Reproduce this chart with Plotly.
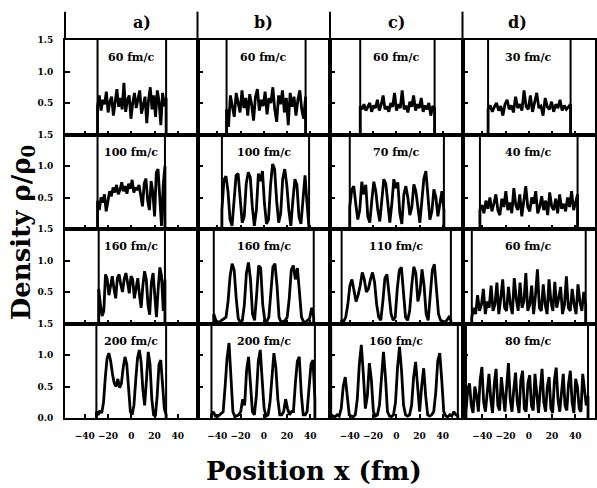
import numpy as np
import plotly.graph_objects as go
from plotly.subplots import make_subplots

# Column headers and time labels (fm/c) per panel, rows top to bottom
columns = ["a)", "b)", "c)", "d)"]
times = [
    ["60 fm/c", "60 fm/c", "60 fm/c", "30 fm/c"],
    ["100 fm/c", "100 fm/c", "70 fm/c", "40 fm/c"],
    ["160 fm/c", "160 fm/c", "110 fm/c", "60 fm/c"],
    ["200 fm/c", "200 fm/c", "160 fm/c", "80 fm/c"],
]

# Box walls (fm): [left, right] for each panel
walls = [
    [[-29, 30], [-32, 36], [-31, 33], [-35, 36]],
    [[-29, 29], [-36, 39], [-40, 41], [-42, 42]],
    [[-28, 29], [-43, 43], [-47, 47], [-49, 49]],
    [[-30, 30], [-45, 44], [-56, 53], [-54, 51]],
]

# Density rho/rho0 sampled evenly between the walls
dens_r1a = [0.45, 0.62, 0.38, 0.55, 0.48, 0.68, 0.35, 0.52, 0.60, 0.30, 0.50, 0.72, 0.44, 0.58, 0.40, 0.82, 0.36, 0.55, 0.62, 0.25,
            0.50, 0.66, 0.42, 0.58, 0.70, 0.33, 0.48, 0.60, 0.18, 0.55, 0.75, 0.40, 0.62, 0.28, 0.70, 0.52, 0.15, 0.66, 0.45, 0.58]
dens_r1b = [0.40, 0.12, 0.62, 0.45, 0.28, 0.66, 0.50, 0.35, 0.70, 0.42, 0.58, 0.30, 0.64, 0.48, 0.22, 0.60, 0.72, 0.38, 0.55, 0.45,
            0.68, 0.32, 0.58, 0.50, 0.75, 0.40, 0.20, 0.62, 0.48, 0.70, 0.35, 0.58, 0.15, 0.66, 0.44, 0.60, 0.30, 0.55, 0.70, 0.40, 0.25, 0.60]
dens_r1c = [0.45, 0.40, 0.48, 0.38, 0.44, 0.50, 0.36, 0.46, 0.42, 0.55, 0.38, 0.47, 0.62, 0.40, 0.45, 0.36, 0.50, 0.44, 0.66, 0.38,
            0.48, 0.42, 0.70, 0.40, 0.46, 0.35, 0.52, 0.44, 0.62, 0.38, 0.48, 0.42, 0.58, 0.36, 0.46, 0.40, 0.50, 0.30, 0.45, 0.42]
dens_r1d = [0.40, 0.46, 0.36, 0.44, 0.50, 0.38, 0.45, 0.30, 0.48, 0.55, 0.40, 0.46, 0.35, 0.60, 0.42, 0.48, 0.38, 0.70, 0.44, 0.40,
            0.62, 0.36, 0.50, 0.66, 0.42, 0.45, 0.30, 0.58, 0.44, 0.40, 0.52, 0.36, 0.48, 0.42, 0.55, 0.38, 0.46, 0.40, 0.44, 0.48]

dens_r2a = [0.45, 0.30, 0.50, 0.42, 0.55, 0.28, 0.48, 0.60, 0.52, 0.66, 0.58, 0.70, 0.55, 0.62, 0.74, 0.60, 0.68, 0.56, 0.72, 0.64,
            0.78, 0.58, 0.66, 0.62, 0.70, 0.50, 0.36, 0.72, 0.80, 0.45, 0.30, 0.76, 0.58, 0.20, 0.90, 0.95, 0.40, 0.05, 0.70, 1.00]
dens_r2b = [0.30, 0.78, 0.84, 0.60, 0.15, 0.05, 0.40, 0.85, 0.88, 0.50, 0.10, 0.20, 0.72, 0.90, 0.82, 0.35, 0.05, 0.30, 0.88, 0.76,
            0.92, 0.40, 0.08, 0.15, 0.70, 1.03, 0.95, 0.45, 0.10, 0.25, 0.80, 0.95, 0.70, 0.30, 0.05, 0.45, 0.79, 0.70, 0.20, 0.08,
            0.55, 0.85, 0.40, 0.10]
dens_r2c = [0.35, 0.62, 0.68, 0.40, 0.15, 0.30, 0.75, 0.55, 0.70, 0.20, 0.10, 0.45, 0.75, 0.60, 0.30, 0.12, 0.50, 0.79, 0.72, 0.35,
            0.10, 0.40, 0.79, 0.65, 0.74, 0.25, 0.08, 0.55, 0.68, 0.50, 0.22, 0.35, 0.71, 0.60, 0.30, 0.10, 0.45, 0.80, 0.92, 0.55,
            0.15, 0.28, 0.63, 0.50, 0.20, 0.40, 0.60, 0.30]
dens_r2d = [0.30, 0.38, 0.25, 0.45, 0.32, 0.50, 0.28, 0.40, 0.55, 0.30, 0.22, 0.48, 0.35, 0.60, 0.30, 0.42, 0.25, 0.65, 0.38, 0.30,
            0.55, 0.20, 0.45, 0.68, 0.35, 0.28, 0.50, 0.40, 0.60, 0.25, 0.35, 0.52, 0.30, 0.45, 0.22, 0.58, 0.36, 0.30, 0.48, 0.25,
            0.55, 0.32, 0.40, 0.28, 0.50, 0.35, 0.60, 0.30, 0.42, 0.55]

dens_r3a = [0.55, 0.30, 0.12, 0.20, 0.78, 0.70, 0.45, 0.60, 0.75, 0.55, 0.40, 0.72, 0.78, 0.62, 0.50, 0.70, 0.80, 0.65, 0.48, 0.75,
            0.70, 0.40, 0.55, 0.72, 0.45, 0.25, 0.60, 0.83, 0.70, 0.30, 0.14, 0.65, 0.80, 0.40, 0.10, 0.55, 0.89, 0.75, 0.20, 0.70]
dens_r3b = [0.15, 0.05, 0.02, 0.03, 0.05, 0.08, 0.10, 0.35, 0.75, 0.95, 0.85, 0.40, 0.08, 0.02, 0.05, 0.30, 0.80, 0.97, 0.70, 0.15,
            0.05, 0.45, 0.92, 0.88, 0.30, 0.05, 0.03, 0.10, 0.55, 0.90, 0.95, 0.60, 0.10, 0.02, 0.03, 0.05, 0.10, 0.40, 0.85, 0.92,
            0.70, 0.88, 0.50, 0.10, 0.03, 0.02, 0.05, 0.08, 0.25, 0.10]
dens_r3c = [0.05, 0.03, 0.10, 0.30, 0.60, 0.70, 0.55, 0.35, 0.45, 0.60, 0.81, 0.70, 0.50, 0.55, 0.70, 0.81, 0.65, 0.30, 0.10, 0.05,
            0.35, 0.72, 0.78, 0.50, 0.15, 0.05, 0.10, 0.55, 0.85, 0.89, 0.45, 0.10, 0.05, 0.20, 0.60, 0.90, 0.80, 0.35, 0.50, 0.86,
            0.60, 0.15, 0.05, 0.40, 0.85, 0.94, 0.60, 0.15, 0.05, 0.03, 0.02, 0.05, 0.10, 0.05]
dens_r3d = [0.10, 0.25, 0.15, 0.45, 0.20, 0.30, 0.55, 0.15, 0.35, 0.25, 0.60, 0.20, 0.30, 0.65, 0.15, 0.40, 0.70, 0.25, 0.20, 0.58,
            0.30, 0.15, 0.72, 0.40, 0.20, 0.65, 0.25, 0.35, 0.80, 0.20, 0.30, 0.60, 0.15, 0.45, 0.86, 0.25, 0.20, 0.62, 0.30, 0.15,
            0.70, 0.35, 0.20, 0.66, 0.25, 0.40, 0.58, 0.15, 0.30, 0.75, 0.25, 0.20, 0.55, 0.30, 0.15, 0.62, 0.35, 0.20, 0.50, 0.30]

dens_r4a = [0.10, 0.05, 0.12, 0.08, 0.25, 0.65, 0.95, 1.03, 0.90, 0.70, 0.55, 0.50, 0.62, 0.48, 0.55, 0.80, 0.97, 0.85, 0.40, 0.10,
            0.05, 0.20, 0.60, 0.95, 1.08, 0.90, 0.45, 0.20, 0.60, 1.05, 0.85, 0.30, 0.05, 0.03, 0.35, 0.85, 0.92, 0.60, 0.15, 0.05]
dens_r4b = [0.05, 0.10, 0.03, 0.02, 0.05, 0.08, 0.10, 0.50, 0.95, 1.19, 0.60, 0.10, 0.02, 0.03, 0.05, 0.10, 0.30, 0.20, 0.75, 0.97,
            0.60, 0.10, 0.05, 0.35, 0.90, 1.08, 0.60, 0.15, 0.03, 0.05, 0.25, 0.70, 1.03, 0.80, 0.30, 0.05, 0.05, 0.10, 0.30, 0.15,
            0.05, 0.10, 0.10, 0.55, 0.90, 0.97, 0.40, 0.05, 0.05, 0.10, 0.45, 0.85, 0.92, 0.30]
dens_r4c = [0.05, 0.03, 0.02, 0.05, 0.03, 0.15, 0.50, 0.65, 0.30, 0.05, 0.03, 0.02, 0.05, 0.30, 0.85, 1.16, 0.70, 0.15, 0.35, 0.87,
            0.60, 0.10, 0.03, 0.05, 0.20, 0.70, 1.05, 0.65, 0.10, 0.03, 0.02, 0.05, 0.25, 0.80, 1.13, 0.75, 0.20, 0.05, 0.03, 0.05,
            0.20, 0.65, 0.89, 0.50, 0.10, 0.50, 0.79, 0.35, 0.05, 0.03, 0.05, 0.10, 0.40, 0.90, 1.03, 0.60, 0.10, 0.03, 0.02, 0.05,
            0.03, 0.10, 0.05, 0.03]
dens_r4d = [0.10, 0.45, 0.55, 0.20, 0.08, 0.50, 0.35, 0.10, 0.60, 0.81, 0.25, 0.10, 0.40, 0.70, 0.30, 0.08, 0.55, 0.78, 0.20, 0.12,
            0.65, 0.40, 0.10, 0.50, 0.87, 0.30, 0.10, 0.45, 0.72, 0.25, 0.08, 0.60, 0.75, 0.15, 0.10, 0.55, 0.68, 0.20, 0.12, 0.70,
            0.35, 0.08, 0.45, 0.78, 0.25, 0.10, 0.50, 0.65, 0.15, 0.08, 0.60, 0.80, 0.30, 0.10, 0.40, 0.70, 0.20, 0.12, 0.55, 0.75,
            0.25, 0.08, 0.62, 0.50, 0.15, 0.10, 0.70, 0.45, 0.20, 0.35]

densities = [
    [dens_r1a, dens_r1b, dens_r1c, dens_r1d],
    [dens_r2a, dens_r2b, dens_r2c, dens_r2d],
    [dens_r3a, dens_r3b, dens_r3c, dens_r3d],
    [dens_r4a, dens_r4b, dens_r4c, dens_r4d],
]

x_ticks = [-40, -20, 0, 20, 40]
x_ticktext = ["−40", "−20", "0", "20", "40"]
y_ticks = [0.0, 0.5, 1.0, 1.5]
y_ticktext = ["0.0", "0.5", "1.0", "1.5"]

SERIF = "DejaVu Serif"
INK = "black"

fig = make_subplots(rows=4, cols=4, horizontal_spacing=0, vertical_spacing=0)

for r in range(4):
    for c in range(4):
        wl, wr = walls[r][c]
        vals = densities[r][c]
        xs = np.concatenate([[wl], np.linspace(wl, wr, len(vals)), [wr]])
        ys = np.concatenate([[0.0], vals, [0.0]])
        fig.add_trace(
            go.Scatter(x=xs, y=ys, mode="lines", line=dict(color=INK, width=2.8),
                       showlegend=False, hoverinfo="skip"),
            row=r + 1, col=c + 1,
        )
        idx = r * 4 + c + 1
        xref = "x" if idx == 1 else f"x{idx}"
        yref = "y" if idx == 1 else f"y{idx}"
        # box walls
        for w in (wl, wr):
            fig.add_shape(type="line", xref=xref, yref=f"{yref} domain",
                          x0=w, x1=w, y0=0, y1=1, line=dict(color=INK, width=2))
        fig.add_annotation(x=0, y=1.22, xref=xref, yref=yref, text=f"<b>{times[r][c]}</b>",
                           showarrow=False, font=dict(family=SERIF, size=11, color=INK))

        fig.update_xaxes(
            row=r + 1, col=c + 1, range=[-57, 57], showgrid=False, zeroline=False,
            showline=True, mirror=True, linecolor=INK, linewidth=2,
            ticks="inside", ticklen=4, tickwidth=1.5, tickcolor=INK,
            tickvals=x_ticks, ticktext=[f"<b>{t}</b>" for t in x_ticktext],
            showticklabels=(r == 3), ticklabelstandoff=8,
            tickfont=dict(family=SERIF, size=9, color=INK),
        )
        tv = y_ticks if r == 3 else y_ticks[1:]
        tt = y_ticktext if r == 3 else y_ticktext[1:]
        fig.update_yaxes(
            row=r + 1, col=c + 1, range=[0, 1.5], showgrid=False, zeroline=False,
            showline=True, mirror=True, linecolor=INK, linewidth=2,
            ticks="inside", ticklen=5, tickwidth=1.5, tickcolor=INK,
            tickvals=tv, ticktext=[f"<b>{t}</b>" for t in tt],
            showticklabels=(c == 0), ticklabelstandoff=8,
            tickfont=dict(family=SERIF, size=9, color=INK),
        )

# column headers and the separators above the grid
for c, name in enumerate(columns):
    fig.add_annotation(x=(c + 0.5) / 4, y=1.047, xref="paper", yref="paper", yanchor="middle",
                       text=f"<b>{name}</b>", showarrow=False,
                       font=dict(family=SERIF, size=16, color=INK))
    fig.add_shape(type="line", xref="paper", yref="paper", x0=c / 4, x1=c / 4, y0=1.0, y1=1.075,
                  line=dict(color=INK, width=2))

fig.add_annotation(x=-0.115, y=0.49, xref="paper", yref="paper", textangle=-90,
                   text="<b>Density ρ/ρ<sub>0</sub></b>", showarrow=False,
                   font=dict(family=SERIF, size=26, color=INK))
fig.add_annotation(x=0.47, y=-0.14, xref="paper", yref="paper", yanchor="middle",
                   text="<b>Position x (fm)</b>", showarrow=False,
                   font=dict(family=SERIF, size=26, color=INK))

fig.update_layout(
    width=597, height=488,
    margin=dict(l=65, r=0, t=40, b=70),
    paper_bgcolor="white", plot_bgcolor="white",
    showlegend=False,
)

fig.write_html("out.html")
